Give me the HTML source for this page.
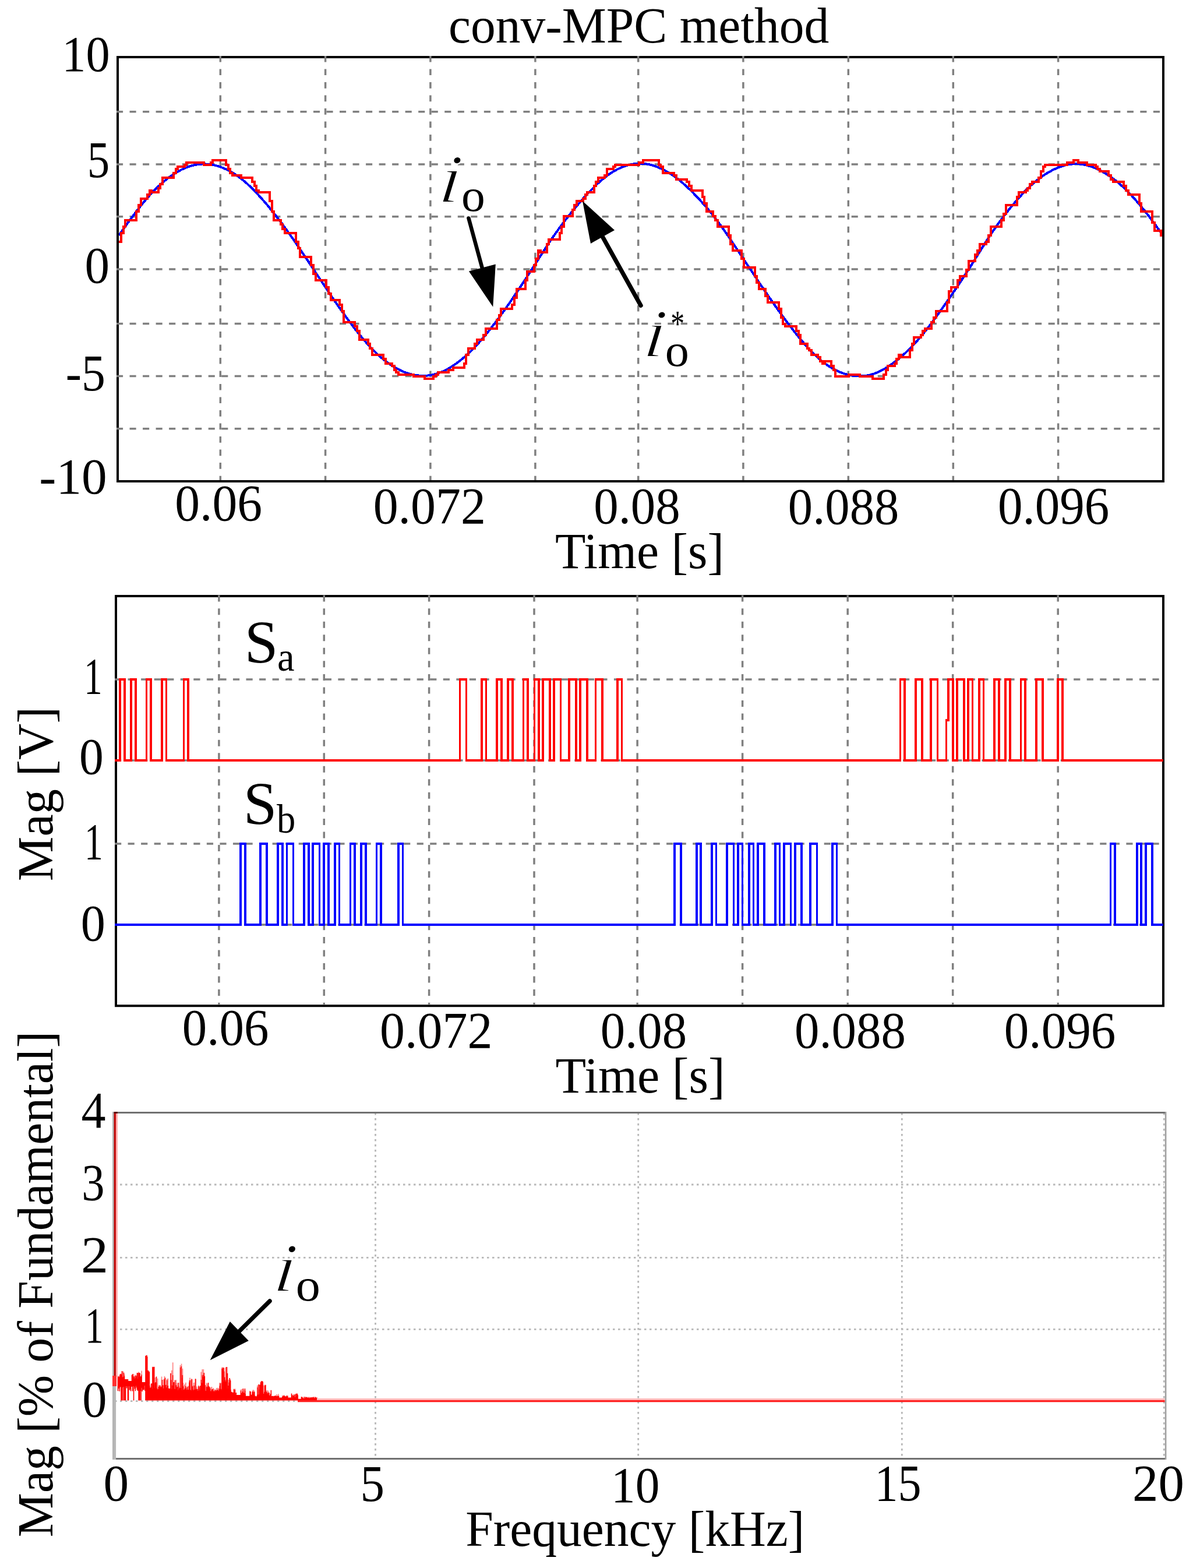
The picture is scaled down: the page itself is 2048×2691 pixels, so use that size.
<!DOCTYPE html><html><head><meta charset="utf-8"><title>conv-MPC method</title>
<style>html,body{margin:0;padding:0;background:#fff;width:2048px;height:2691px;overflow:hidden}svg{display:block}</style></head><body>
<svg xmlns="http://www.w3.org/2000/svg" width="2048" height="2691" viewBox="0 0 2048 2691" font-family="&quot;Liberation Serif&quot;, &quot;Times New Roman&quot;, serif" fill="#000">
<rect width="2048" height="2691" fill="#fff"/>
<rect x="202" y="98" width="1795" height="728" fill="none" stroke="#000" stroke-width="4"/>
<path d="M200 191.8H1995 M200 281.9H1995 M200 371.7H1995 M200 461.9H1995 M200 555.6H1995 M200 645.6H1995 M200 735.8H1995" stroke="#808080" stroke-width="3.5" stroke-dasharray="11.1 11.43" fill="none"/>
<path d="M378.3 96V824 M558.6 96V824 M738.9 96V824 M918.9 96V824 M1095.7 96V824 M1275.9 96V824 M1456.3 96V824 M1636.3 96V824 M1816.6 96V824" stroke="#808080" stroke-width="3.5" stroke-dasharray="10.6 11.92" fill="none"/>
<clipPath id="c1"><rect x="204" y="100" width="1791" height="724"/></clipPath>
<g clip-path="url(#c1)" fill="none" stroke-linejoin="miter" shape-rendering="crispEdges"><path d="M204 404.12 L205 402.7 L206 401.28 L207 399.86 L208 398.45 L209 397.04 L210 395.63 L211 394.23 L212 392.83 L213 391.43 L214 390.04 L215 388.64 L216 387.26 L217 385.87 L218 384.49 L219 383.11 L220 381.74 L221 380.37 L222 379 L223 377.64 L224 376.28 L225 374.93 L226 373.58 L227 372.23 L228 370.89 L229 369.56 L230 368.23 L231 366.91 L232 365.59 L233 364.28 L234 362.97 L235 361.67 L236 360.38 L237 359.09 L238 357.81 L239 356.54 L240 355.28 L241 354.02 L242 352.77 L243 351.53 L244 350.29 L245 349.07 L246 347.85 L247 346.64 L248 345.45 L249 344.26 L250 343.08 L251 341.91 L252 340.74 L253 339.59 L254 338.45 L255 337.32 L256 336.2 L257 335.09 L258 333.99 L259 332.9 L260 331.82 L261 330.75 L262 329.7 L263 328.65 L264 327.61 L265 326.59 L266 325.58 L267 324.57 L268 323.58 L269 322.6 L270 321.63 L271 320.67 L272 319.72 L273 318.79 L274 317.86 L275 316.95 L276 316.05 L277 315.16 L278 314.27 L279 313.4 L280 312.55 L281 311.7 L282 310.86 L283 310.04 L284 309.22 L285 308.42 L286 307.63 L287 306.85 L288 306.08 L289 305.32 L290 304.57 L291 303.84 L292 303.11 L293 302.4 L294 301.7 L295 301 L296 300.32 L297 299.66 L298 299 L299 298.35 L300 297.72 L301 297.09 L302 296.48 L303 295.88 L304 295.29 L305 294.72 L306 294.15 L307 293.6 L308 293.05 L309 292.52 L310 292 L311 291.5 L312 291 L313 290.52 L314 290.05 L315 289.59 L316 289.14 L317 288.7 L318 288.28 L319 287.87 L320 287.47 L321 287.08 L322 286.71 L323 286.35 L324 286 L325 285.66 L326 285.34 L327 285.02 L328 284.72 L329 284.44 L330 284.16 L331 283.9 L332 283.65 L333 283.42 L334 283.2 L335 282.99 L336 282.79 L337 282.61 L338 282.44 L339 282.28 L340 282.13 L341 282 L342 281.89 L343 281.78 L344 281.69 L345 281.62 L346 281.55 L347 281.5 L348 281.47 L349 281.44 L350 281.43 L351 281.44 L352 281.46 L353 281.49 L354 281.53 L355 281.59 L356 281.67 L357 281.75 L358 281.85 L359 281.96 L360 282.09 L361 282.22 L362 282.37 L363 282.54 L364 282.71 L365 282.9 L366 283.1 L367 283.31 L368 283.54 L369 283.77 L370 284.02 L371 284.28 L372 284.55 L373 284.83 L374 285.13 L375 285.43 L376 285.75 L377 286.08 L378 286.42 L379 286.77 L380 287.13 L381 287.51 L382 287.9 L383 288.3 L384 288.71 L385 289.13 L386 289.56 L387 290.01 L388 290.47 L389 290.94 L390 291.42 L391 291.92 L392 292.42 L393 292.94 L394 293.47 L395 294.02 L396 294.57 L397 295.14 L398 295.72 L399 296.32 L400 296.92 L401 297.54 L402 298.17 L403 298.81 L404 299.47 L405 300.13 L406 300.81 L407 301.51 L408 302.21 L409 302.93 L410 303.66 L411 304.4 L412 305.15 L413 305.92 L414 306.7 L415 307.49 L416 308.29 L417 309.1 L418 309.93 L419 310.77 L420 311.62 L421 312.48 L422 313.35 L423 314.23 L424 315.13 L425 316.03 L426 316.95 L427 317.87 L428 318.81 L429 319.76 L430 320.71 L431 321.68 L432 322.66 L433 323.65 L434 324.64 L435 325.65 L436 326.66 L437 327.68 L438 328.72 L439 329.76 L440 330.81 L441 331.86 L442 332.93 L443 334 L444 335.08 L445 336.17 L446 337.27 L447 338.37 L448 339.48 L449 340.6 L450 341.72 L451 342.86 L452 344 L453 345.14 L454 346.3 L455 347.46 L456 348.62 L457 349.8 L458 350.98 L459 352.16 L460 353.36 L461 354.55 L462 355.76 L463 356.97 L464 358.19 L465 359.42 L466 360.65 L467 361.88 L468 363.13 L469 364.38 L470 365.63 L471 366.89 L472 368.16 L473 369.43 L474 370.71 L475 372 L476 373.29 L477 374.58 L478 375.88 L479 377.19 L480 378.51 L481 379.82 L482 381.15 L483 382.48 L484 383.81 L485 385.15 L486 386.5 L487 387.85 L488 389.21 L489 390.57 L490 391.94 L491 393.31 L492 394.68 L493 396.07 L494 397.45 L495 398.84 L496 400.24 L497 401.64 L498 403.05 L499 404.46 L500 405.87 L501 407.29 L502 408.72 L503 410.14 L504 411.58 L505 413.01 L506 414.45 L507 415.9 L508 417.34 L509 418.79 L510 420.25 L511 421.7 L512 423.16 L513 424.63 L514 426.09 L515 427.56 L516 429.03 L517 430.51 L518 431.98 L519 433.46 L520 434.94 L521 436.42 L522 437.9 L523 439.39 L524 440.88 L525 442.36 L526 443.85 L527 445.34 L528 446.83 L529 448.32 L530 449.82 L531 451.31 L532 452.81 L533 454.3 L534 455.79 L535 457.29 L536 458.78 L537 460.28 L538 461.78 L539 463.3 L540 464.82 L541 466.35 L542 467.87 L543 469.39 L544 470.92 L545 472.44 L546 473.96 L547 475.48 L548 477 L549 478.51 L550 480.03 L551 481.54 L552 483.06 L553 484.57 L554 486.08 L555 487.58 L556 489.09 L557 490.59 L558 492.09 L559 493.59 L560 495.09 L561 496.58 L562 498.07 L563 499.56 L564 501.04 L565 502.52 L566 504 L567 505.48 L568 506.95 L569 508.42 L570 509.88 L571 511.34 L572 512.8 L573 514.26 L574 515.71 L575 517.16 L576 518.6 L577 520.04 L578 521.48 L579 522.91 L580 524.34 L581 525.77 L582 527.19 L583 528.6 L584 530.02 L585 531.43 L586 532.83 L587 534.23 L588 535.63 L589 537.03 L590 538.41 L591 539.8 L592 541.18 L593 542.55 L594 543.93 L595 545.29 L596 546.65 L597 548.01 L598 549.36 L599 550.71 L600 552.05 L601 553.39 L602 554.72 L603 556.05 L604 557.37 L605 558.69 L606 560 L607 561.31 L608 562.6 L609 563.9 L610 565.18 L611 566.46 L612 567.74 L613 569.01 L614 570.27 L615 571.52 L616 572.77 L617 574.01 L618 575.24 L619 576.46 L620 577.68 L621 578.89 L622 580.09 L623 581.28 L624 582.47 L625 583.64 L626 584.81 L627 585.97 L628 587.12 L629 588.26 L630 589.39 L631 590.51 L632 591.62 L633 592.72 L634 593.81 L635 594.89 L636 595.96 L637 597.02 L638 598.06 L639 599.1 L640 600.13 L641 601.15 L642 602.15 L643 603.14 L644 604.13 L645 605.1 L646 606.06 L647 607.01 L648 607.95 L649 608.87 L650 609.79 L651 610.69 L652 611.58 L653 612.46 L654 613.33 L655 614.19 L656 615.04 L657 615.87 L658 616.69 L659 617.51 L660 618.3 L661 619.09 L662 619.87 L663 620.63 L664 621.39 L665 622.13 L666 622.86 L667 623.58 L668 624.28 L669 624.98 L670 625.66 L671 626.33 L672 626.99 L673 627.63 L674 628.27 L675 628.89 L676 629.5 L677 630.1 L678 630.69 L679 631.26 L680 631.83 L681 632.38 L682 632.92 L683 633.44 L684 633.96 L685 634.46 L686 634.95 L687 635.43 L688 635.9 L689 636.36 L690 636.8 L691 637.23 L692 637.65 L693 638.06 L694 638.46 L695 638.84 L696 639.21 L697 639.57 L698 639.92 L699 640.26 L700 640.59 L701 640.9 L702 641.2 L703 641.49 L704 641.77 L705 642.04 L706 642.29 L707 642.53 L708 642.76 L709 642.98 L710 643.19 L711 643.38 L712 643.56 L713 643.74 L714 643.89 L715 644.04 L716 644.17 L717 644.3 L718 644.41 L719 644.5 L720 644.59 L721 644.66 L722 644.72 L723 644.77 L724 644.81 L725 644.83 L726 644.84 L727 644.84 L728 644.83 L729 644.8 L730 644.76 L731 644.71 L732 644.65 L733 644.57 L734 644.48 L735 644.38 L736 644.26 L737 644.13 L738 643.99 L739 643.84 L740 643.67 L741 643.49 L742 643.3 L743 643.09 L744 642.87 L745 642.64 L746 642.39 L747 642.13 L748 641.86 L749 641.57 L750 641.27 L751 640.95 L752 640.63 L753 640.28 L754 639.93 L755 639.56 L756 639.18 L757 638.78 L758 638.37 L759 637.95 L760 637.51 L761 637.06 L762 636.6 L763 636.12 L764 635.63 L765 635.13 L766 634.62 L767 634.09 L768 633.55 L769 632.99 L770 632.43 L771 631.85 L772 631.26 L773 630.65 L774 630.04 L775 629.41 L776 628.78 L777 628.13 L778 627.47 L779 626.79 L780 626.11 L781 625.42 L782 624.72 L783 624 L784 623.28 L785 622.54 L786 621.8 L787 621.04 L788 620.28 L789 619.5 L790 618.72 L791 617.92 L792 617.11 L793 616.3 L794 615.48 L795 614.64 L796 613.8 L797 612.94 L798 612.08 L799 611.21 L800 610.32 L801 609.43 L802 608.52 L803 607.61 L804 606.69 L805 605.75 L806 604.81 L807 603.85 L808 602.89 L809 601.91 L810 600.93 L811 599.93 L812 598.92 L813 597.9 L814 596.88 L815 595.84 L816 594.79 L817 593.73 L818 592.66 L819 591.58 L820 590.49 L821 589.39 L822 588.28 L823 587.15 L824 586.02 L825 584.88 L826 583.74 L827 582.58 L828 581.41 L829 580.24 L830 579.05 L831 577.86 L832 576.66 L833 575.45 L834 574.23 L835 573.01 L836 571.78 L837 570.54 L838 569.3 L839 568.05 L840 566.79 L841 565.52 L842 564.25 L843 562.98 L844 561.69 L845 560.41 L846 559.11 L847 557.81 L848 556.51 L849 555.2 L850 553.89 L851 552.57 L852 551.24 L853 549.91 L854 548.58 L855 547.24 L856 545.89 L857 544.55 L858 543.19 L859 541.83 L860 540.47 L861 539.1 L862 537.73 L863 536.35 L864 534.97 L865 533.59 L866 532.2 L867 530.8 L868 529.4 L869 527.99 L870 526.58 L871 525.17 L872 523.75 L873 522.32 L874 520.89 L875 519.46 L876 518.02 L877 516.58 L878 515.13 L879 513.67 L880 512.22 L881 510.75 L882 509.28 L883 507.81 L884 506.34 L885 504.86 L886 503.37 L887 501.88 L888 500.39 L889 498.89 L890 497.39 L891 495.89 L892 494.38 L893 492.87 L894 491.36 L895 489.84 L896 488.32 L897 486.8 L898 485.28 L899 483.75 L900 482.22 L901 480.69 L902 479.15 L903 477.62 L904 476.08 L905 474.54 L906 473 L907 471.46 L908 469.91 L909 468.37 L910 466.82 L911 465.27 L912 463.72 L913 462.17 L914 460.64 L915 459.12 L916 457.6 L917 456.08 L918 454.55 L919 453.03 L919.98 451.5 L920.96 449.98 L921.94 448.45 L922.92 446.93 L923.9 445.4 L924.88 443.88 L925.86 442.35 L926.84 440.83 L927.82 439.31 L928.8 437.79 L929.78 436.27 L930.77 434.76 L931.75 433.24 L932.73 431.73 L933.71 430.22 L934.69 428.72 L935.67 427.21 L936.65 425.72 L937.63 424.22 L938.61 422.73 L939.59 421.25 L940.57 419.77 L941.55 418.29 L942.53 416.82 L943.51 415.36 L944.49 413.9 L945.47 412.45 L946.45 411.01 L947.44 409.57 L948.42 408.14 L949.4 406.72 L950.38 405.3 L951.36 403.89 L952.34 402.49 L953.32 401.1 L954.3 399.71 L955.28 398.33 L956.26 396.96 L957.24 395.59 L958.22 394.24 L959.2 392.88 L960.18 391.54 L961.16 390.2 L962.14 388.87 L963.12 387.55 L964.11 386.24 L965.09 384.93 L966.07 383.62 L967.05 382.33 L968.03 381.04 L969.01 379.75 L969.99 378.47 L970.97 377.2 L971.95 375.94 L972.93 374.68 L973.91 373.42 L974.89 372.17 L975.87 370.93 L976.85 369.69 L977.83 368.46 L978.81 367.24 L979.79 366.02 L980.78 364.8 L981.76 363.59 L982.74 362.39 L983.72 361.19 L984.7 359.99 L985.68 358.8 L986.66 357.62 L987.64 356.44 L988.62 355.27 L989.6 354.1 L990.58 352.94 L991.56 351.79 L992.54 350.64 L993.52 349.49 L994.5 348.35 L995.48 347.22 L996.46 346.09 L997.45 344.96 L998.43 343.84 L999.41 342.73 L1000.39 341.63 L1001.37 340.53 L1002.35 339.43 L1003.33 338.34 L1004.31 337.26 L1005.29 336.18 L1006.27 335.11 L1007.25 334.05 L1008.23 332.99 L1009.21 331.94 L1010.19 330.9 L1011.17 329.86 L1012.15 328.83 L1013.13 327.81 L1014.12 326.79 L1015.1 325.79 L1016.08 324.79 L1017.06 323.8 L1018.04 322.81 L1019.02 321.84 L1020 320.87 L1020.98 319.91 L1021.96 318.96 L1022.94 318.02 L1023.92 317.09 L1024.9 316.16 L1025.88 315.25 L1026.86 314.35 L1027.84 313.45 L1028.82 312.57 L1029.8 311.69 L1030.79 310.83 L1031.77 309.98 L1032.75 309.14 L1033.73 308.31 L1034.71 307.49 L1035.69 306.68 L1036.67 305.88 L1037.65 305.09 L1038.63 304.32 L1039.61 303.56 L1040.59 302.81 L1041.57 302.07 L1042.55 301.34 L1043.53 300.63 L1044.51 299.92 L1045.49 299.24 L1046.47 298.56 L1047.46 297.89 L1048.44 297.24 L1049.42 296.6 L1050.4 295.98 L1051.38 295.36 L1052.36 294.76 L1053.34 294.17 L1054.32 293.6 L1055.3 293.03 L1056.28 292.48 L1057.26 291.94 L1058.24 291.42 L1059.22 290.91 L1060.2 290.41 L1061.18 289.92 L1062.16 289.44 L1063.14 288.98 L1064.13 288.53 L1065.11 288.09 L1066.09 287.67 L1067.07 287.26 L1068.05 286.86 L1069.03 286.47 L1070.01 286.1 L1070.99 285.73 L1071.97 285.38 L1072.95 285.04 L1073.93 284.72 L1074.91 284.4 L1075.89 284.1 L1076.87 283.81 L1077.85 283.54 L1078.83 283.27 L1079.81 283.02 L1080.8 282.78 L1081.78 282.55 L1082.76 282.34 L1083.74 282.13 L1084.72 281.94 L1085.7 281.76 L1086.68 281.6 L1087.66 281.44 L1088.64 281.3 L1089.62 281.17 L1090.6 281.06 L1091.58 280.95 L1092.56 280.86 L1093.54 280.79 L1094.52 280.72 L1095.5 280.67 L1096.5 280.63 L1097.5 280.61 L1098.5 280.6 L1099.5 280.6 L1100.5 280.62 L1101.5 280.65 L1102.5 280.69 L1103.5 280.75 L1104.5 280.82 L1105.5 280.91 L1106.5 281.01 L1107.5 281.12 L1108.5 281.25 L1109.5 281.39 L1110.5 281.55 L1111.5 281.72 L1112.5 281.9 L1113.5 282.1 L1114.5 282.31 L1115.5 282.54 L1116.5 282.78 L1117.5 283.03 L1118.5 283.3 L1119.5 283.58 L1120.5 283.87 L1121.5 284.18 L1122.5 284.49 L1123.5 284.83 L1124.5 285.17 L1125.5 285.52 L1126.5 285.89 L1127.5 286.27 L1128.5 286.66 L1129.5 287.06 L1130.5 287.48 L1131.5 287.9 L1132.5 288.34 L1133.5 288.79 L1134.5 289.25 L1135.5 289.72 L1136.5 290.2 L1137.5 290.69 L1138.5 291.19 L1139.5 291.7 L1140.5 292.23 L1141.5 292.76 L1142.5 293.3 L1143.5 293.86 L1144.5 294.42 L1145.5 295 L1146.5 295.59 L1147.5 296.18 L1148.5 296.79 L1149.5 297.41 L1150.5 298.03 L1151.5 298.67 L1152.5 299.32 L1153.5 299.98 L1154.5 300.65 L1155.5 301.33 L1156.5 302.02 L1157.5 302.72 L1158.5 303.44 L1159.5 304.16 L1160.5 304.89 L1161.5 305.64 L1162.5 306.39 L1163.5 307.16 L1164.5 307.94 L1165.5 308.72 L1166.5 309.52 L1167.5 310.33 L1168.5 311.15 L1169.5 311.98 L1170.5 312.82 L1171.5 313.67 L1172.5 314.54 L1173.5 315.41 L1174.5 316.29 L1175.5 317.18 L1176.5 318.08 L1177.5 319 L1178.5 319.92 L1179.5 320.85 L1180.5 321.79 L1181.5 322.74 L1182.5 323.7 L1183.5 324.66 L1184.5 325.64 L1185.5 326.62 L1186.5 327.61 L1187.5 328.61 L1188.5 329.61 L1189.5 330.63 L1190.5 331.65 L1191.5 332.67 L1192.5 333.71 L1193.5 334.74 L1194.5 335.79 L1195.5 336.84 L1196.5 337.9 L1197.5 338.96 L1198.5 340.03 L1199.5 341.1 L1200.5 342.18 L1201.5 343.27 L1202.5 344.36 L1203.5 345.45 L1204.5 346.56 L1205.5 347.67 L1206.5 348.78 L1207.5 349.9 L1208.5 351.03 L1209.5 352.16 L1210.5 353.3 L1211.5 354.45 L1212.5 355.6 L1213.5 356.76 L1214.5 357.93 L1215.5 359.11 L1216.5 360.3 L1217.5 361.49 L1218.5 362.69 L1219.5 363.9 L1220.5 365.12 L1221.5 366.35 L1222.5 367.59 L1223.5 368.83 L1224.5 370.09 L1225.5 371.35 L1226.5 372.63 L1227.5 373.91 L1228.5 375.2 L1229.5 376.51 L1230.5 377.82 L1231.5 379.14 L1232.5 380.47 L1233.5 381.81 L1234.5 383.16 L1235.5 384.52 L1236.5 385.89 L1237.5 387.27 L1238.5 388.66 L1239.5 390.05 L1240.5 391.45 L1241.5 392.87 L1242.5 394.29 L1243.5 395.71 L1244.5 397.15 L1245.5 398.59 L1246.5 400.03 L1247.5 401.49 L1248.5 402.95 L1249.5 404.41 L1250.5 405.88 L1251.5 407.35 L1252.5 408.83 L1253.5 410.31 L1254.5 411.8 L1255.5 413.29 L1256.5 414.78 L1257.5 416.27 L1258.5 417.77 L1259.5 419.27 L1260.5 420.76 L1261.5 422.26 L1262.5 423.77 L1263.5 425.27 L1264.5 426.77 L1265.5 428.27 L1266.5 429.77 L1267.5 431.27 L1268.5 432.78 L1269.5 434.28 L1270.5 435.78 L1271.5 437.28 L1272.5 438.78 L1273.5 440.28 L1274.5 441.78 L1275.5 443.28 L1276.5 444.77 L1277.5 446.27 L1278.5 447.77 L1279.5 449.26 L1280.5 450.75 L1281.5 452.25 L1282.5 453.74 L1283.5 455.23 L1284.5 456.72 L1285.5 458.21 L1286.5 459.69 L1287.5 461.18 L1288.5 462.68 L1289.5 464.19 L1290.5 465.7 L1291.5 467.21 L1292.5 468.72 L1293.5 470.23 L1294.5 471.73 L1295.5 473.24 L1296.5 474.74 L1297.5 476.24 L1298.5 477.74 L1299.5 479.24 L1300.5 480.73 L1301.5 482.22 L1302.5 483.72 L1303.5 485.21 L1304.5 486.69 L1305.5 488.18 L1306.5 489.66 L1307.5 491.14 L1308.5 492.62 L1309.5 494.1 L1310.5 495.57 L1311.5 497.04 L1312.5 498.51 L1313.5 499.98 L1314.5 501.44 L1315.5 502.9 L1316.5 504.36 L1317.5 505.82 L1318.5 507.27 L1319.5 508.72 L1320.5 510.17 L1321.5 511.61 L1322.5 513.06 L1323.5 514.5 L1324.5 515.93 L1325.5 517.36 L1326.5 518.79 L1327.5 520.22 L1328.5 521.65 L1329.5 523.07 L1330.5 524.48 L1331.5 525.9 L1332.5 527.31 L1333.5 528.71 L1334.5 530.11 L1335.5 531.51 L1336.5 532.91 L1337.5 534.3 L1338.5 535.69 L1339.5 537.07 L1340.5 538.45 L1341.5 539.82 L1342.5 541.19 L1343.5 542.56 L1344.5 543.92 L1345.5 545.28 L1346.5 546.63 L1347.5 547.98 L1348.5 549.32 L1349.5 550.66 L1350.5 552 L1351.5 553.32 L1352.5 554.65 L1353.5 555.97 L1354.5 557.28 L1355.5 558.59 L1356.5 559.9 L1357.5 561.2 L1358.5 562.49 L1359.5 563.78 L1360.5 565.07 L1361.5 566.35 L1362.5 567.62 L1363.5 568.89 L1364.5 570.15 L1365.5 571.41 L1366.5 572.67 L1367.5 573.91 L1368.5 575.15 L1369.5 576.39 L1370.5 577.62 L1371.5 578.84 L1372.5 580.06 L1373.5 581.27 L1374.5 582.48 L1375.5 583.67 L1376.5 584.86 L1377.5 586.05 L1378.5 587.22 L1379.5 588.39 L1380.5 589.55 L1381.5 590.7 L1382.5 591.84 L1383.5 592.97 L1384.5 594.1 L1385.5 595.21 L1386.5 596.31 L1387.5 597.4 L1388.5 598.49 L1389.5 599.56 L1390.5 600.62 L1391.5 601.67 L1392.5 602.7 L1393.5 603.73 L1394.5 604.75 L1395.5 605.75 L1396.5 606.74 L1397.5 607.72 L1398.5 608.69 L1399.5 609.64 L1400.5 610.58 L1401.5 611.51 L1402.5 612.43 L1403.5 613.33 L1404.5 614.23 L1405.5 615.11 L1406.5 615.97 L1407.5 616.83 L1408.5 617.67 L1409.5 618.5 L1410.5 619.32 L1411.5 620.13 L1412.5 620.92 L1413.5 621.7 L1414.5 622.46 L1415.5 623.22 L1416.5 623.96 L1417.5 624.69 L1418.5 625.41 L1419.5 626.11 L1420.5 626.8 L1421.5 627.48 L1422.5 628.14 L1423.5 628.8 L1424.5 629.44 L1425.5 630.06 L1426.5 630.68 L1427.5 631.28 L1428.5 631.87 L1429.5 632.44 L1430.5 633.01 L1431.5 633.56 L1432.5 634.09 L1433.5 634.62 L1434.5 635.13 L1435.5 635.63 L1436.5 636.12 L1437.5 636.59 L1438.5 637.05 L1439.5 637.5 L1440.5 637.94 L1441.5 638.36 L1442.5 638.77 L1443.5 639.17 L1444.5 639.56 L1445.5 639.93 L1446.5 640.3 L1447.5 640.65 L1448.5 640.98 L1449.5 641.31 L1450.5 641.62 L1451.5 641.92 L1452.5 642.21 L1453.5 642.49 L1454.5 642.75 L1455.5 643 L1456.5 643.24 L1457.5 643.47 L1458.5 643.69 L1459.5 643.89 L1460.5 644.09 L1461.5 644.27 L1462.5 644.44 L1463.5 644.59 L1464.5 644.74 L1465.5 644.87 L1466.5 644.99 L1467.5 645.1 L1468.5 645.2 L1469.5 645.28 L1470.5 645.35 L1471.5 645.41 L1472.5 645.46 L1473.5 645.49 L1474.5 645.51 L1475.5 645.52 L1476.5 645.52 L1477.5 645.5 L1478.5 645.47 L1479.5 645.42 L1480.5 645.36 L1481.5 645.29 L1482.5 645.21 L1483.5 645.11 L1484.5 645 L1485.5 644.87 L1486.5 644.73 L1487.5 644.58 L1488.5 644.41 L1489.5 644.23 L1490.5 644.03 L1491.5 643.82 L1492.5 643.6 L1493.5 643.36 L1494.5 643.1 L1495.5 642.84 L1496.5 642.55 L1497.5 642.26 L1498.5 641.95 L1499.5 641.62 L1500.5 641.29 L1501.5 640.93 L1502.5 640.57 L1503.5 640.19 L1504.5 639.79 L1505.5 639.39 L1506.5 638.97 L1507.5 638.53 L1508.5 638.08 L1509.5 637.62 L1510.5 637.15 L1511.5 636.66 L1512.5 636.16 L1513.5 635.65 L1514.5 635.12 L1515.5 634.59 L1516.5 634.04 L1517.5 633.48 L1518.5 632.9 L1519.5 632.32 L1520.5 631.72 L1521.5 631.11 L1522.5 630.49 L1523.5 629.86 L1524.5 629.22 L1525.5 628.57 L1526.5 627.91 L1527.5 627.23 L1528.5 626.55 L1529.5 625.86 L1530.5 625.15 L1531.5 624.44 L1532.5 623.72 L1533.5 622.99 L1534.5 622.24 L1535.5 621.49 L1536.5 620.73 L1537.5 619.96 L1538.5 619.18 L1539.5 618.4 L1540.5 617.6 L1541.5 616.79 L1542.5 615.98 L1543.5 615.15 L1544.5 614.32 L1545.5 613.47 L1546.5 612.62 L1547.5 611.76 L1548.5 610.88 L1549.5 610 L1550.5 609.11 L1551.5 608.21 L1552.5 607.3 L1553.5 606.38 L1554.5 605.45 L1555.5 604.51 L1556.5 603.56 L1557.5 602.6 L1558.5 601.64 L1559.5 600.66 L1560.5 599.67 L1561.5 598.67 L1562.5 597.66 L1563.5 596.64 L1564.5 595.62 L1565.5 594.58 L1566.5 593.53 L1567.5 592.47 L1568.5 591.41 L1569.5 590.33 L1570.5 589.24 L1571.5 588.15 L1572.5 587.04 L1573.5 585.93 L1574.5 584.81 L1575.5 583.67 L1576.5 582.53 L1577.5 581.38 L1578.5 580.22 L1579.5 579.05 L1580.5 577.87 L1581.5 576.69 L1582.5 575.49 L1583.5 574.29 L1584.5 573.08 L1585.5 571.86 L1586.5 570.63 L1587.5 569.39 L1588.5 568.15 L1589.5 566.9 L1590.5 565.64 L1591.5 564.37 L1592.5 563.1 L1593.5 561.82 L1594.5 560.53 L1595.5 559.23 L1596.5 557.93 L1597.5 556.62 L1598.5 555.3 L1599.5 553.98 L1600.5 552.65 L1601.5 551.31 L1602.5 549.97 L1603.5 548.63 L1604.5 547.27 L1605.5 545.92 L1606.5 544.55 L1607.5 543.18 L1608.5 541.81 L1609.5 540.43 L1610.5 539.05 L1611.5 537.66 L1612.5 536.26 L1613.5 534.87 L1614.5 533.47 L1615.5 532.06 L1616.5 530.65 L1617.5 529.24 L1618.5 527.82 L1619.5 526.4 L1620.5 524.98 L1621.5 523.55 L1622.5 522.12 L1623.5 520.69 L1624.5 519.25 L1625.5 517.81 L1626.5 516.37 L1627.5 514.93 L1628.5 513.48 L1629.5 512.04 L1630.5 510.59 L1631.5 509.13 L1632.5 507.68 L1633.5 506.22 L1634.5 504.76 L1635.5 503.3 L1636.5 501.84 L1637.5 500.37 L1638.5 498.91 L1639.5 497.44 L1640.5 495.97 L1641.5 494.49 L1642.5 493.01 L1643.5 491.54 L1644.5 490.06 L1645.5 488.57 L1646.5 487.08 L1647.5 485.59 L1648.5 484.1 L1649.5 482.61 L1650.5 481.11 L1651.5 479.6 L1652.5 478.1 L1653.5 476.59 L1654.5 475.07 L1655.5 473.55 L1656.5 472.02 L1657.5 470.49 L1658.5 468.96 L1659.5 467.42 L1660.5 465.87 L1661.5 464.32 L1662.5 462.76 L1663.5 461.21 L1664.5 459.67 L1665.5 458.12 L1666.5 456.57 L1667.5 455.01 L1668.5 453.44 L1669.5 451.87 L1670.5 450.29 L1671.5 448.71 L1672.5 447.12 L1673.5 445.52 L1674.5 443.92 L1675.5 442.32 L1676.5 440.71 L1677.5 439.1 L1678.5 437.49 L1679.5 435.88 L1680.5 434.26 L1681.5 432.65 L1682.5 431.03 L1683.5 429.42 L1684.5 427.81 L1685.5 426.2 L1686.5 424.59 L1687.5 422.99 L1688.5 421.4 L1689.5 419.81 L1690.5 418.22 L1691.5 416.64 L1692.5 415.07 L1693.5 413.51 L1694.5 411.96 L1695.5 410.41 L1696.5 408.87 L1697.5 407.34 L1698.5 405.82 L1699.5 404.3 L1700.5 402.8 L1701.5 401.31 L1702.5 399.82 L1703.5 398.34 L1704.5 396.88 L1705.5 395.42 L1706.5 393.97 L1707.5 392.53 L1708.5 391.1 L1709.5 389.67 L1710.5 388.26 L1711.5 386.85 L1712.5 385.46 L1713.5 384.07 L1714.5 382.69 L1715.5 381.32 L1716.5 379.95 L1717.5 378.6 L1718.5 377.25 L1719.5 375.91 L1720.5 374.58 L1721.5 373.25 L1722.5 371.94 L1723.5 370.63 L1724.5 369.33 L1725.5 368.03 L1726.5 366.75 L1727.5 365.47 L1728.5 364.19 L1729.5 362.93 L1730.5 361.67 L1731.5 360.42 L1732.5 359.17 L1733.5 357.94 L1734.5 356.7 L1735.5 355.48 L1736.5 354.26 L1737.5 353.05 L1738.5 351.85 L1739.5 350.65 L1740.5 349.46 L1741.5 348.28 L1742.5 347.11 L1743.5 345.94 L1744.5 344.78 L1745.5 343.62 L1746.5 342.48 L1747.5 341.34 L1748.5 340.21 L1749.5 339.09 L1750.5 337.97 L1751.5 336.86 L1752.5 335.76 L1753.5 334.67 L1754.5 333.59 L1755.5 332.52 L1756.5 331.46 L1757.5 330.4 L1758.5 329.36 L1759.5 328.32 L1760.5 327.3 L1761.5 326.28 L1762.5 325.28 L1763.5 324.28 L1764.5 323.3 L1765.5 322.33 L1766.5 321.37 L1767.5 320.42 L1768.5 319.48 L1769.5 318.55 L1770.5 317.63 L1771.5 316.73 L1772.5 315.84 L1773.5 314.95 L1774.5 314.09 L1775.5 313.23 L1776.5 312.38 L1777.5 311.55 L1778.5 310.73 L1779.5 309.91 L1780.5 309.12 L1781.5 308.33 L1782.5 307.55 L1783.5 306.79 L1784.5 306.04 L1785.5 305.29 L1786.5 304.56 L1787.5 303.84 L1788.5 303.14 L1789.5 302.44 L1790.5 301.75 L1791.5 301.08 L1792.5 300.41 L1793.5 299.76 L1794.5 299.11 L1795.5 298.48 L1796.5 297.86 L1797.5 297.24 L1798.5 296.64 L1799.5 296.05 L1800.5 295.47 L1801.5 294.9 L1802.5 294.34 L1803.5 293.79 L1804.5 293.25 L1805.5 292.72 L1806.5 292.2 L1807.5 291.69 L1808.5 291.19 L1809.5 290.71 L1810.5 290.23 L1811.5 289.77 L1812.5 289.32 L1813.5 288.88 L1814.5 288.45 L1815.5 288.03 L1816.5 287.62 L1817.5 287.22 L1818.5 286.84 L1819.5 286.47 L1820.5 286.11 L1821.5 285.76 L1822.5 285.43 L1823.5 285.1 L1824.5 284.79 L1825.5 284.49 L1826.5 284.21 L1827.5 283.93 L1828.5 283.67 L1829.5 283.43 L1830.5 283.19 L1831.5 282.97 L1832.5 282.76 L1833.5 282.57 L1834.5 282.38 L1835.5 282.22 L1836.5 282.06 L1837.5 281.92 L1838.5 281.79 L1839.5 281.68 L1840.5 281.58 L1841.5 281.49 L1842.5 281.42 L1843.5 281.36 L1844.5 281.32 L1845.5 281.29 L1846.5 281.27 L1847.5 281.27 L1848.5 281.28 L1849.5 281.31 L1850.5 281.35 L1851.5 281.4 L1852.5 281.47 L1853.5 281.55 L1854.5 281.65 L1855.5 281.76 L1856.5 281.88 L1857.5 282.02 L1858.5 282.17 L1859.5 282.34 L1860.5 282.52 L1861.5 282.71 L1862.5 282.92 L1863.5 283.14 L1864.5 283.37 L1865.5 283.61 L1866.5 283.87 L1867.5 284.14 L1868.5 284.42 L1869.5 284.72 L1870.5 285.02 L1871.5 285.34 L1872.5 285.68 L1873.5 286.02 L1874.5 286.37 L1875.5 286.74 L1876.5 287.12 L1877.5 287.51 L1878.5 287.91 L1879.5 288.32 L1880.5 288.74 L1881.5 289.18 L1882.5 289.62 L1883.5 290.08 L1884.5 290.54 L1885.5 291.02 L1886.5 291.51 L1887.5 292.01 L1888.5 292.52 L1889.5 293.04 L1890.5 293.57 L1891.5 294.11 L1892.5 294.66 L1893.5 295.22 L1894.5 295.79 L1895.5 296.37 L1896.5 296.96 L1897.5 297.56 L1898.5 298.18 L1899.5 298.8 L1900.5 299.43 L1901.5 300.07 L1902.5 300.73 L1903.5 301.39 L1904.5 302.07 L1905.5 302.75 L1906.5 303.45 L1907.5 304.15 L1908.5 304.87 L1909.5 305.6 L1910.5 306.34 L1911.5 307.09 L1912.5 307.85 L1913.5 308.62 L1914.5 309.4 L1915.5 310.19 L1916.5 310.99 L1917.5 311.81 L1918.5 312.63 L1919.5 313.47 L1920.5 314.32 L1921.5 315.17 L1922.5 316.04 L1923.5 316.92 L1924.5 317.81 L1925.5 318.71 L1926.5 319.63 L1927.5 320.55 L1928.5 321.48 L1929.5 322.42 L1930.5 323.38 L1931.5 324.34 L1932.5 325.32 L1933.5 326.3 L1934.5 327.29 L1935.5 328.3 L1936.5 329.31 L1937.5 330.34 L1938.5 331.37 L1939.5 332.41 L1940.5 333.46 L1941.5 334.52 L1942.5 335.59 L1943.5 336.67 L1944.5 337.76 L1945.5 338.85 L1946.5 339.96 L1947.5 341.07 L1948.5 342.19 L1949.5 343.32 L1950.5 344.46 L1951.5 345.6 L1952.5 346.76 L1953.5 347.92 L1954.5 349.09 L1955.5 350.26 L1956.5 351.45 L1957.5 352.64 L1958.5 353.84 L1959.5 355.04 L1960.5 356.26 L1961.5 357.48 L1962.5 358.7 L1963.5 359.94 L1964.5 361.18 L1965.5 362.43 L1966.5 363.68 L1967.5 364.95 L1968.5 366.22 L1969.5 367.49 L1970.5 368.78 L1971.5 370.07 L1972.5 371.36 L1973.5 372.67 L1974.5 373.98 L1975.5 375.29 L1976.5 376.62 L1977.5 377.95 L1978.5 379.28 L1979.5 380.62 L1980.5 381.97 L1981.5 383.33 L1982.5 384.69 L1983.5 386.05 L1984.5 387.42 L1985.5 388.8 L1986.5 390.18 L1987.5 391.57 L1988.5 392.96 L1989.5 394.36 L1990.5 395.77 L1991.5 397.18 L1992.5 398.59 L1993.5 400.01 L1994.5 401.43 L1995.5 402.86" stroke="#0000ff" stroke-width="4"/><path d="M203 414.86 L207.75 414.86 L207.75 400.16 L211.5 400.16 L211.5 389.14 L215.25 389.14 L215.25 378.12 L234 378.12 L234 363.42 L237.75 363.42 L237.75 352.4 L241.5 352.4 L241.5 341.38 L252.75 341.38 L252.75 334.03 L256.5 334.03 L256.5 326.68 L260.25 326.68 L260.25 330.36 L271.5 330.36 L271.5 323.01 L275.25 323.01 L275.25 315.66 L279 315.66 L279 304.64 L297.75 304.64 L297.75 297.29 L301.5 297.29 L301.5 289.94 L305.25 289.94 L305.25 286.27 L316.5 286.27 L316.5 282.59 L320.25 282.59 L320.25 278.92 L350.25 278.92 L350.25 282.59 L361.5 282.59 L361.5 278.92 L365.25 278.92 L365.25 275.25 L387.75 275.25 L387.75 282.59 L391.5 282.59 L391.5 289.94 L395.25 289.94 L395.25 297.29 L399 297.29 L399 300.96 L414 300.96 L414 304.64 L432.75 304.64 L432.75 311.99 L436.5 311.99 L436.5 319.33 L440.25 319.33 L440.25 326.68 L444 326.68 L444 330.36 L462.75 330.36 L462.75 345.05 L466.5 345.05 L466.5 363.42 L470.25 363.42 L470.25 378.12 L481.5 378.12 L481.5 385.47 L485.25 385.47 L485.25 392.81 L489 392.81 L489 400.16 L507.75 400.16 L507.75 414.86 L511.5 414.86 L511.5 425.88 L515.25 425.88 L515.25 440.58 L534 440.58 L534 455.27 L537.75 455.27 L537.75 470.13 L541.5 470.13 L541.5 481.37 L560.25 481.37 L560.25 492.62 L564 492.62 L564 503.86 L567.75 503.86 L567.75 515.1 L582.75 515.1 L582.75 522.6 L586.5 522.6 L586.5 533.84 L590.25 533.84 L590.25 552.58 L609 552.58 L609 560.07 L612.75 560.07 L612.75 567.57 L616.5 567.57 L616.5 582.56 L631.5 582.56 L631.5 590.05 L635.25 590.05 L635.25 597.55 L639 597.55 L639 608.79 L657.75 608.79 L657.75 616.28 L661.5 616.28 L661.5 623.78 L672.75 623.78 L672.75 627.52 L676.5 627.52 L676.5 635.02 L680.25 635.02 L680.25 638.77 L684 638.77 L684 642.51 L710.25 642.51 L710.25 646.26 L729 646.26 L729 650.01 L744 650.01 L744 646.26 L747.75 646.26 L747.75 642.51 L751.5 642.51 L751.5 638.77 L770.25 638.77 L770.25 635.02 L777.75 635.02 L777.75 631.27 L796.5 631.27 L796.5 623.78 L800.25 623.78 L800.25 608.79 L804 608.79 L804 597.55 L815.25 597.55 L815.25 590.05 L819 590.05 L819 582.56 L830.25 582.56 L830.25 575.06 L834 575.06 L834 563.82 L852.75 563.82 L852.75 548.83 L856.5 548.83 L856.5 541.33 L860.25 541.33 L860.25 530.09 L879 530.09 L879 522.6 L882.75 522.6 L882.75 511.35 L886.5 511.35 L886.5 496.36 L901.5 496.36 L901.5 481.37 L905.25 481.37 L905.25 466.38 L916.5 466.38 L916.5 455.27 L920.22 455.27 L920.22 444.25 L923.9 444.25 L923.9 429.55 L927.58 429.55 L927.58 433.23 L938.61 433.23 L938.61 418.53 L942.29 418.53 L942.29 411.18 L960.67 411.18 L960.67 400.16 L964.35 400.16 L964.35 389.14 L968.03 389.14 L968.03 370.77 L982.74 370.77 L982.74 359.75 L986.41 359.75 L986.41 352.4 L990.09 352.4 L990.09 345.05 L1001.12 345.05 L1001.12 341.38 L1004.8 341.38 L1004.8 334.03 L1008.48 334.03 L1008.48 330.36 L1019.51 330.36 L1019.51 319.33 L1023.19 319.33 L1023.19 311.99 L1026.86 311.99 L1026.86 304.64 L1037.89 304.64 L1037.89 300.96 L1041.57 300.96 L1041.57 289.94 L1052.6 289.94 L1052.6 286.27 L1056.28 286.27 L1056.28 282.59 L1096.75 282.59 L1096.75 278.92 L1104.25 278.92 L1104.25 275.25 L1130.5 275.25 L1130.5 282.59 L1134.25 282.59 L1134.25 286.27 L1138 286.27 L1138 297.29 L1156.75 297.29 L1156.75 300.96 L1160.5 300.96 L1160.5 308.31 L1179.25 308.31 L1179.25 311.99 L1183 311.99 L1183 319.33 L1186.75 319.33 L1186.75 326.68 L1205.5 326.68 L1205.5 337.7 L1209.25 337.7 L1209.25 348.73 L1213 348.73 L1213 363.42 L1224.25 363.42 L1224.25 370.77 L1228 370.77 L1228 378.12 L1231.75 378.12 L1231.75 389.14 L1250.5 389.14 L1250.5 403.84 L1254.25 403.84 L1254.25 418.53 L1258 418.53 L1258 429.55 L1273 429.55 L1273 444.25 L1276.75 444.25 L1276.75 458.95 L1295.5 458.95 L1295.5 473.88 L1299.25 473.88 L1299.25 485.12 L1303 485.12 L1303 496.36 L1314.25 496.36 L1314.25 507.61 L1318 507.61 L1318 518.85 L1336.75 518.85 L1336.75 530.09 L1340.5 530.09 L1340.5 545.08 L1344.25 545.08 L1344.25 556.32 L1348 556.32 L1348 560.07 L1366.75 560.07 L1366.75 567.57 L1370.5 567.57 L1370.5 575.06 L1374.25 575.06 L1374.25 590.05 L1385.5 590.05 L1385.5 597.55 L1389.25 597.55 L1389.25 601.29 L1393 601.29 L1393 608.79 L1404.25 608.79 L1404.25 612.53 L1408 612.53 L1408 620.03 L1411.75 620.03 L1411.75 623.78 L1415.5 623.78 L1415.5 620.03 L1426.75 620.03 L1426.75 627.52 L1430.5 627.52 L1430.5 635.02 L1434.25 635.02 L1434.25 646.26 L1456.75 646.26 L1456.75 642.51 L1475.5 642.51 L1475.5 646.26 L1498 646.26 L1498 650.01 L1516.75 650.01 L1516.75 642.51 L1520.5 642.51 L1520.5 635.02 L1524.25 635.02 L1524.25 627.52 L1535.5 627.52 L1535.5 623.78 L1539.25 623.78 L1539.25 616.28 L1543 616.28 L1543 608.79 L1546.75 608.79 L1546.75 612.53 L1561.75 612.53 L1561.75 601.29 L1565.5 601.29 L1565.5 590.05 L1569.25 590.05 L1569.25 578.81 L1580.5 578.81 L1580.5 575.06 L1584.25 575.06 L1584.25 567.57 L1588 567.57 L1588 563.82 L1599.25 563.82 L1599.25 552.58 L1603 552.58 L1603 545.08 L1606.75 545.08 L1606.75 533.84 L1625.5 533.84 L1625.5 518.85 L1629.25 518.85 L1629.25 500.11 L1633 500.11 L1633 492.62 L1644.25 492.62 L1644.25 481.37 L1648 481.37 L1648 473.88 L1659.25 473.88 L1659.25 462.64 L1663 462.64 L1663 447.93 L1674.25 447.93 L1674.25 436.9 L1678 436.9 L1678 429.55 L1681.75 429.55 L1681.75 418.53 L1693 418.53 L1693 414.86 L1696.75 414.86 L1696.75 403.84 L1700.5 403.84 L1700.5 389.14 L1719.25 389.14 L1719.25 378.12 L1723 378.12 L1723 367.1 L1726.75 367.1 L1726.75 352.4 L1745.5 352.4 L1745.5 337.7 L1749.25 337.7 L1749.25 330.36 L1760.5 330.36 L1760.5 326.68 L1764.25 326.68 L1764.25 323.01 L1768 323.01 L1768 315.66 L1771.75 315.66 L1771.75 311.99 L1783 311.99 L1783 304.64 L1786.75 304.64 L1786.75 293.62 L1790.5 293.62 L1790.5 286.27 L1794.25 286.27 L1794.25 282.59 L1831.75 282.59 L1831.75 278.92 L1843 278.92 L1843 275.25 L1850.5 275.25 L1850.5 278.92 L1865.5 278.92 L1865.5 282.59 L1880.5 282.59 L1880.5 286.27 L1884.25 286.27 L1884.25 289.94 L1888 289.94 L1888 293.62 L1903 293.62 L1903 300.96 L1906.75 300.96 L1906.75 308.31 L1910.5 308.31 L1910.5 311.99 L1929.25 311.99 L1929.25 319.33 L1933 319.33 L1933 326.68 L1936.75 326.68 L1936.75 334.03 L1955.5 334.03 L1955.5 348.73 L1959.25 348.73 L1959.25 363.42 L1978 363.42 L1978 381.79 L1981.75 381.79 L1981.75 396.49 L1993 396.49 L1993 403.84 L1996.75 403.84 L1996.75 414.86 L1997 414.86 L1997 418.53 L1997 418.53 L1997 436.9 L1997 436.9 L1997 458.95 L1997 458.95" stroke="#ff0000" stroke-width="4"/></g>
<path d="M804.5 374.5L827.5 459" stroke="#000" stroke-width="6.6" stroke-linecap="round" fill="none"/>
<path d="M804.9 465.6L850.8 453.4L846.3 526.8Z"/>
<path d="M1034.5 406.5L1100 524.3" stroke="#000" stroke-width="7.4" stroke-linecap="round" fill="none"/>
<path d="M1000 345L1055 395L1014 417.9Z"/>
<rect x="199" y="1023" width="1798" height="703.2" fill="none" stroke="#000" stroke-width="4"/>
<path d="M197 1166H1995 M197 1305H1995 M197 1448H1995 M197 1587H1995" stroke="#808080" stroke-width="3.5" stroke-dasharray="11.2 11.35" fill="none"/>
<path d="M375.9 1021.6V1724.5 M556.3 1021.6V1724.5 M736.6 1021.6V1724.5 M917 1021.6V1724.5 M1094.1 1021.6V1724.5 M1274.6 1021.6V1724.5 M1455.2 1021.6V1724.5 M1635.7 1021.6V1724.5 M1816.2 1021.6V1724.5" stroke="#808080" stroke-width="3.5" stroke-dasharray="11 11.55" fill="none"/>
<g fill="none" stroke-linejoin="miter" shape-rendering="crispEdges"><path d="M197 1305 L206.1 1305 L206.1 1166 L214 1166 L214 1305 L224.9 1305 L224.9 1166 L232.7 1166 L232.7 1305 L251.3 1305 L251.3 1166 L259 1166 L259 1305 L277.9 1305 L277.9 1166 L285.3 1166 L285.3 1305 L315.5 1305 L315.5 1166 L322.9 1166 L322.9 1305 L789.4 1305 L789.4 1166 L800.6 1166 L800.6 1305 L826.8 1305 L826.8 1166 L834.3 1166 L834.3 1305 L853.2 1305 L853.2 1166 L860.8 1166 L860.8 1305 L872 1305 L872 1166 L879.7 1166 L879.7 1305 L898.5 1305 L898.5 1166 L906 1166 L906 1305 L917.3 1305 L917.3 1166 L925 1166 L925 1305 L932.1 1305 L932.1 1166 L943.8 1166 L943.8 1305 L950.9 1305 L950.9 1166 L962.5 1166 L962.5 1305 L977.2 1305 L977.2 1166 L988.9 1166 L988.9 1305 L996.1 1305 L996.1 1166 L1007.8 1166 L1007.8 1305 L1022.4 1305 L1022.4 1166 L1034 1166 L1034 1305 L1060 1305 L1060 1166 L1067.5 1166 L1067.5 1305 L1545.5 1305 L1545.5 1166 L1553 1166 L1553 1305 L1571.8 1305 L1571.8 1166 L1583.2 1166 L1583.2 1305 L1598 1305 L1598 1166 L1609.4 1166 L1609.4 1305 L1624.3 1305 L1624.3 1235.7 L1628.1 1235.7 L1628.1 1166 L1635.7 1166 L1635.7 1305 L1643.2 1305 L1643.2 1166 L1654.7 1166 L1654.7 1305 L1661.9 1305 L1661.9 1166 L1669.4 1166 L1669.4 1305 L1681 1305 L1681 1166 L1688.4 1166 L1688.4 1305 L1707.1 1305 L1707.1 1166 L1714.9 1166 L1714.9 1305 L1726 1305 L1726 1166 L1733.7 1166 L1733.7 1305 L1752.4 1305 L1752.4 1166 L1759.9 1166 L1759.9 1305 L1778.8 1305 L1778.8 1166 L1789.9 1166 L1789.9 1305 L1816.2 1305 L1816.2 1166 L1823.9 1166 L1823.9 1305 L1997 1305" stroke="#ff0000" stroke-width="3.6"/><path d="M197 1587 L413.2 1587 L413.2 1448 L420.9 1448 L420.9 1587 L447 1587 L447 1448 L458.2 1448 L458.2 1587 L477 1587 L477 1448 L484.7 1448 L484.7 1587 L492.3 1587 L492.3 1448 L503.5 1448 L503.5 1587 L522.2 1587 L522.2 1448 L529.9 1448 L529.9 1587 L537 1587 L537 1448 L548.6 1448 L548.6 1587 L556.1 1587 L556.1 1448 L563.7 1448 L563.7 1587 L574.9 1587 L574.9 1448 L582.5 1448 L582.5 1587 L601.3 1587 L601.3 1448 L608.9 1448 L608.9 1587 L620 1587 L620 1448 L627.7 1448 L627.7 1587 L646.3 1587 L646.3 1448 L653.9 1448 L653.9 1587 L684 1587 L684 1448 L691.6 1448 L691.6 1587 L1158 1587 L1158 1448 L1169.2 1448 L1169.2 1587 L1195.7 1587 L1195.7 1448 L1203 1448 L1203 1587 L1221.9 1587 L1221.9 1448 L1229.4 1448 L1229.4 1587 L1248.1 1587 L1248.1 1448 L1259.6 1448 L1259.6 1587 L1267 1587 L1267 1448 L1274.6 1448 L1274.6 1587 L1286 1587 L1286 1448 L1293.5 1448 L1293.5 1587 L1301 1587 L1301 1448 L1312 1448 L1312 1587 L1331 1587 L1331 1448 L1338.5 1448 L1338.5 1587 L1346.1 1587 L1346.1 1448 L1357.3 1448 L1357.3 1587 L1364.9 1587 L1364.9 1448 L1376 1448 L1376 1587 L1391.1 1587 L1391.1 1448 L1402.5 1448 L1402.5 1587 L1428.9 1587 L1428.9 1448 L1436.3 1448 L1436.3 1587 L1906.6 1587 L1906.6 1448 L1914 1448 L1914 1587 L1951.9 1587 L1951.9 1448 L1959.1 1448 L1959.1 1587 L1966.8 1587 L1966.8 1448 L1978.1 1448 L1978.1 1587 L1997 1587" stroke="#0000ff" stroke-width="3.6"/></g>
<path d="M197 2033H1998 M197 2158.3H1998 M197 2281.3H1998 M197 2404.6H1998 M644.5 1910V2503 M1095.7 1910V2503 M1548.3 1910V2503 M1998.3 1910V2503" stroke="#b8b8b8" stroke-width="2.8" stroke-dasharray="3.5 5.5" fill="none"/>
<rect x="193" y="1908" width="3" height="597" fill="#b4b4b4"/>
<rect x="196" y="1908" width="1804" height="3" fill="#707070"/>
<rect x="196" y="2502" width="1804" height="3" fill="#707070"/>
<rect x="1999.8" y="1908" width="2.6" height="597" fill="#a0a0a0"/>
<path d="M202.5 2362.36V2361.47 M204.5 2363.38V2361.32 M206 2359.56V2358.25 M207 2357.78V2357.67 M208 2358.92V2357.93 M208.75 2359.1V2357.6 M210.5 2363.68V2354.66 M211.5 2362.68V2353.19 M213.5 2361.78V2358.66 M214.5 2367V2367 M216.5 2367V2367 M217.5 2367V2367 M218.5 2367V2367 M220.5 2370V2370 M222.5 2370V2370 M223.5 2370V2370 M224.5 2370V2370 M228.5 2362.06V2357.72 M229.5 2365.02V2358.52 M232.5 2361.09V2359.44 M233.5 2364.58V2359.68 M235.5 2356.1V2355.98 M237.3 2356.36V2355.91 M238.1 2363.12V2354.17 M243.1 2359.06V2352.48 M245.1 2372V2372 M246.1 2372V2372 M247.1 2372V2372 M248.1 2372V2372 M252 2326.1V2325.58 M253.5 2352.85V2352.25 M254.5 2352.11V2351.75 M256.35 2354.55V2353.36 M257.2 2381.13V2377.92 M259.2 2380.71V2374.76 M260.2 2374.28V2374.18 M262.9 2347.41V2345.95 M263.9 2345.76V2345.72 M265.5 2381.75V2374.84 M266.5 2372.77V2364.05 M269.5 2382.49V2373.35 M270.5 2384.59V2365.72 M271.5 2384.04V2380.06 M272.5 2380.03V2377.6 M273.5 2379.44V2377.1 M274.5 2377.8V2376.75 M275.5 2379.81V2377.89 M277.5 2379.31V2362.55 M282.5 2370.4V2361.66 M286.5 2368.39V2366.82 M287.5 2378.94V2366.42 M288.4 2377.95V2365.86 M290.3 2383.12V2382.68 M291.3 2383.02V2382.74 M294.9 2384.09V2351.67 M296.7 2359.97V2338.27 M297.5 2378.12V2372.38 M300.5 2368.82V2368.25 M301.5 2383.96V2373.55 M302.5 2377.3V2368.2 M303.5 2380.56V2373.19 M304.5 2379.88V2373.7 M305.5 2385.43V2377.51 M307.5 2383.81V2379.22 M309.5 2346.49V2343 M311.5 2344.86V2340.58 M312.5 2385.72V2364.64 M313.4 2359.65V2348.76 M314.3 2379.13V2373.34 M315.3 2385.36V2379.01 M316.3 2384.76V2377.03 M317.3 2382.79V2375.55 M318.3 2385.15V2375.39 M318.9 2378.89V2372.72 M322.5 2384.72V2378.36 M324.25 2379.35V2378.72 M325 2372.22V2369.05 M326 2369.06V2364.4 M327 2385.29V2368.38 M328 2386.29V2368.64 M329.75 2385.5V2367.31 M331.5 2384.77V2377.74 M332.5 2386.33V2372.9 M333.5 2377.71V2372.68 M336.2 2385.98V2366.68 M337.9 2384.78V2379.44 M340.9 2378.95V2377.56 M341.9 2380.36V2378.76 M342.9 2386.11V2383.19 M345.3 2368.11V2354.57 M347.3 2359.76V2349.95 M349.3 2359.27V2350.02 M352.5 2386.81V2378.14 M353.5 2387.09V2376.56 M354.5 2380.17V2373.28 M355.5 2379.46V2374.54 M356.5 2381.09V2376.46 M359.5 2380.22V2380.06 M360.5 2382.67V2381.12 M361.5 2387.26V2383.17 M362.5 2387.15V2380.47 M363.5 2384.38V2380.1 M366.5 2387.36V2382.07 M368.5 2387.14V2384.57 M371.5 2385.83V2382.36 M372.5 2386.2V2382.26 M373.5 2384.89V2381.77 M374.5 2386.65V2383.99 M375.35 2387.7V2382.15 M377.2 2378.22V2373.04 M378.2 2374.22V2373.08 M379.2 2383.69V2373.2 M380.1 2386.11V2373.58 M381 2348.57V2346.43 M383.9 2347.77V2347.31 M384.8 2370.72V2353.75 M385.8 2363.42V2353.5 M386.8 2368.02V2346.8 M389.8 2382.92V2345.91 M391.2 2383.08V2368.44 M392.2 2378.09V2367.84 M393.2 2372.61V2368.67 M395.2 2368.54V2367.09 M396.05 2384.99V2369.75 M396.9 2388.91V2388.8 M399.7 2389.72V2389.22 M401.5 2384.34V2383.44 M403.5 2385.33V2383.34 M406.2 2394V2394 M408.2 2394V2394 M409.2 2394V2394 M410.2 2394V2394 M412.2 2394V2394 M412.8 2394V2394 M413.4 2386.56V2384.73 M415.4 2390.5V2383.73 M419.4 2391.29V2385.9 M421.15 2391.87V2386.39 M421.9 2395.7V2395.7 M422.9 2395.7V2395.7 M424.9 2395.7V2395.7 M425.9 2395.7V2395.7 M426.9 2395.7V2395.7 M428.5 2395.7V2395.7 M429.1 2387.63V2386.69 M433.1 2389.29V2387.34 M434.1 2387.99V2385.49 M435.1 2391.85V2385.15 M436.1 2389.11V2386.33 M437.5 2396.74V2394.33 M441.2 2395.92V2394.39 M441.9 2380.99V2377.85 M443.9 2375.95V2375.85 M444.9 2392.94V2384.24 M445.9 2376.56V2376.12 M447.5 2372.33V2371.53 M448.5 2371.38V2370.09 M449.5 2370.11V2370.06 M450.5 2370.65V2370.13 M451.2 2371.78V2371.02 M451.9 2392.22V2378.5 M452.9 2391.78V2377.76 M453.9 2388.75V2376.73 M454.9 2378.17V2376.48 M455.9 2376.95V2376.38 M457.5 2388.45V2386.61 M458.5 2391.88V2385.74 M459.5 2390.31V2388.89 M460.5 2392.4V2386.65 M462.5 2395.12V2390.17 M465.35 2385.81V2385.73 M469.2 2396.14V2395.79 M470.2 2396.2V2395.88 M471.05 2395.74V2395.7 M474.9 2396.01V2392.93 M476.9 2395.71V2394.19 M477.9 2395.78V2392.27 M479.1 2398.6V2398.6 M481.1 2398.6V2398.6 M482.1 2398.6V2398.6 M483.1 2398.6V2398.6 M483.95 2398.6V2398.6 M484.8 2396.6V2394.84 M485.8 2396.64V2395.12 M486.8 2395.46V2394.82 M487.8 2395.22V2394.05 M490.8 2397.35V2396.12 M492.8 2397.3V2394.38 M493.8 2395.97V2395.07 M494.8 2398.6V2398.6 M496.8 2398.6V2398.6 M498.8 2398.6V2398.6 M499.65 2398.6V2398.6 M502.5 2398.13V2394.5 M503.5 2394.64V2392.81 M507.5 2392.4V2391.85 M508.5 2395.99V2392.32 M509.5 2391.54V2391.43 M510.5 2393.11V2391.47 M511.2 2395.06V2393.75 M511.9 2400.7V2400.7 M513.9 2400.7V2400.7 M514.9 2400.7V2400.7 M515.9 2400.7V2400.7 M518.5 2398.13V2397.14 M520.5 2399.65V2397.31 M521.5 2399.76V2398.78 M522.5 2399.98V2397.03 M525.5 2398.1V2397.31 M526.5 2397.84V2397.47 M527.5 2399.04V2397.88 M528.5 2398.71V2397.58 M529.5 2399.59V2398.21 M530.5 2398.46V2397.34 M532.5 2398.61V2397.66 M537.5 2399.22V2397.67 M538.5 2397.42V2397.14 M540.5 2399.46V2397.47 M543.5 2399.5V2398.62 M544.15 2399.87V2398" stroke="#ff8c8c" stroke-width="1.8" fill="none"/><path d="M202.5 2387.24V2362.36 M203.5 2383.12V2362.76 M204.5 2381.03V2363.38 M205.25 2387.82V2363.08 M206 2379.57V2359.56 M207 2380.42V2357.78 M208 2403.6V2358.92 M208.75 2382.57V2359.1 M209.5 2403.6V2352.98 M210.5 2380.89V2363.68 M211.5 2403.6V2362.68 M212.5 2380.1V2355.78 M213.5 2403.6V2361.78 M214.5 2403.6V2367 M215.5 2403.6V2367 M216.5 2379.01V2367 M217.5 2382.47V2367 M218.5 2379.17V2367 M219.5 2403.6V2367 M220.5 2403.6V2370 M221.5 2379V2370 M222.5 2385.73V2370 M223.5 2383.83V2370 M224.5 2387.59V2370 M225.5 2379.54V2370 M226.5 2379.9V2359.79 M227.5 2387.5V2358.34 M228.5 2379.04V2362.06 M229.5 2403.6V2365.02 M230.5 2379.75V2362.13 M231.5 2383.59V2365.85 M232.5 2387.17V2361.09 M233.5 2378.6V2364.58 M234.5 2381.62V2361.59 M235.5 2384.91V2356.1 M236.5 2387.1V2365.93 M237.3 2384.36V2356.36 M238.1 2403.6V2363.12 M239.1 2403.6V2355.88 M240.1 2403.6V2356.56 M241.1 2387.01V2362.66 M242.1 2403.6V2361.69 M243.1 2381.82V2359.06 M244.1 2387.93V2372 M245.1 2385.35V2372 M246.1 2385.5V2372 M247.1 2384.98V2372 M248.1 2378.11V2372 M249.05 2387.06V2372 M250 2403.6V2326.83 M251 2403.6V2326.48 M252 2403.6V2326.1 M252.75 2403.6V2328.24 M253.5 2403.6V2352.85 M254.5 2403.6V2352.11 M255.5 2403.6V2354.25 M256.35 2403.6V2354.55 M257.2 2403.6V2381.13 M258.2 2403.6V2381.52 M259.2 2403.6V2380.71 M260.2 2403.6V2374.28 M261.05 2403.6V2384.27 M261.9 2403.6V2345.82 M262.9 2403.6V2347.41 M263.9 2403.6V2345.76 M264.7 2403.6V2345.77 M265.5 2403.6V2381.75 M266.5 2403.6V2372.77 M267.5 2403.6V2372.05 M268.5 2403.6V2362.45 M269.5 2403.6V2382.49 M270.5 2403.6V2384.59 M271.5 2403.6V2384.04 M272.5 2403.6V2380.03 M273.5 2403.6V2379.44 M274.5 2403.6V2377.8 M275.5 2403.6V2379.81 M276.5 2403.6V2380.79 M277.5 2403.6V2379.31 M278.5 2403.6V2367.89 M279.5 2403.6V2377.34 M280.5 2403.6V2382.7 M281.5 2403.6V2367.22 M282.5 2403.6V2370.4 M283.5 2403.6V2364.61 M284.5 2403.6V2376.76 M285.5 2403.6V2381.24 M286.5 2403.6V2368.39 M287.5 2403.6V2378.94 M288.4 2403.6V2377.95 M289.3 2403.6V2382.79 M290.3 2403.6V2383.12 M291.3 2403.6V2383.02 M292.1 2403.6V2384.77 M292.9 2403.6V2356.85 M293.9 2403.6V2368.13 M294.9 2403.6V2384.09 M295.9 2403.6V2377.6 M296.7 2403.6V2359.97 M297.5 2403.6V2378.12 M298.5 2403.6V2371.89 M299.5 2403.6V2383.82 M300.5 2403.6V2368.82 M301.5 2403.6V2383.96 M302.5 2403.6V2377.3 M303.5 2403.6V2380.56 M304.5 2403.6V2379.88 M305.5 2403.6V2385.43 M306.5 2403.6V2372.88 M307.5 2403.6V2383.81 M308.5 2403.6V2381.83 M309.5 2403.6V2346.49 M310.5 2403.6V2381.96 M311.5 2403.6V2344.86 M312.5 2403.6V2385.72 M313.4 2403.6V2359.65 M314.3 2403.6V2379.13 M315.3 2403.6V2385.36 M316.3 2403.6V2384.76 M317.3 2403.6V2382.79 M318.3 2403.6V2385.15 M318.9 2403.6V2378.89 M319.5 2403.6V2382.22 M320.5 2403.6V2385.2 M321.5 2403.6V2380.2 M322.5 2403.6V2384.72 M323.5 2403.6V2385.37 M324.25 2403.6V2379.35 M325 2403.6V2372.22 M326 2403.6V2369.06 M327 2403.6V2385.29 M328 2403.6V2386.29 M329 2403.6V2366.56 M329.75 2403.6V2385.5 M330.5 2403.6V2379.14 M331.5 2403.6V2384.77 M332.5 2403.6V2386.33 M333.5 2403.6V2377.71 M334.5 2403.6V2384.64 M335.5 2403.6V2366.3 M336.2 2403.6V2385.98 M336.9 2403.6V2383.5 M337.9 2403.6V2384.78 M338.9 2403.6V2383.86 M339.9 2403.6V2386.68 M340.9 2403.6V2378.95 M341.9 2403.6V2380.36 M342.9 2403.6V2386.11 M343.9 2403.6V2378.28 M344.6 2403.6V2380.84 M345.3 2403.6V2368.11 M346.3 2403.6V2373.43 M347.3 2403.6V2359.76 M348.3 2403.6V2362.77 M349.3 2403.6V2359.27 M350.3 2403.6V2355.89 M351.3 2403.6V2361.68 M351.9 2403.6V2377.3 M352.5 2403.6V2386.81 M353.5 2403.6V2387.09 M354.5 2403.6V2380.17 M355.5 2403.6V2379.46 M356.5 2403.6V2381.09 M357.5 2403.6V2373 M358.5 2403.6V2378.88 M359.5 2403.6V2380.22 M360.5 2403.6V2382.67 M361.5 2403.6V2387.26 M362.5 2403.6V2387.15 M363.5 2403.6V2384.38 M364.5 2403.6V2384.25 M365.5 2403.6V2383.66 M366.5 2403.6V2387.36 M367.5 2403.6V2387.46 M368.5 2403.6V2387.14 M369.5 2403.6V2385.29 M370.5 2403.6V2387.52 M371.5 2403.6V2385.83 M372.5 2403.6V2386.2 M373.5 2403.6V2384.89 M374.5 2403.6V2386.65 M375.35 2403.6V2387.7 M376.2 2403.6V2384.19 M377.2 2403.6V2378.22 M378.2 2403.6V2374.22 M379.2 2403.6V2383.69 M380.1 2403.6V2386.11 M381 2403.6V2348.57 M382 2403.6V2348.85 M383 2403.6V2346.75 M383.9 2403.6V2347.77 M384.8 2403.6V2370.72 M385.8 2403.6V2363.42 M386.8 2403.6V2368.02 M387.8 2403.6V2370.64 M388.8 2403.6V2346.08 M389.8 2403.6V2382.92 M390.5 2403.6V2356.74 M391.2 2403.6V2383.08 M392.2 2403.6V2378.09 M393.2 2403.6V2372.61 M394.2 2403.6V2365.03 M395.2 2403.6V2368.54 M396.05 2403.6V2384.99 M396.9 2403.6V2388.91 M397.9 2403.6V2388.86 M398.9 2403.6V2390.25 M399.7 2403.6V2389.72 M400.5 2403.6V2390.01 M401.5 2403.6V2384.34 M402.5 2403.6V2384.76 M403.5 2403.6V2385.33 M404.5 2403.6V2390.92 M405.35 2403.6V2390.01 M406.2 2403.6V2394 M407.2 2403.6V2394 M408.2 2403.6V2394 M409.2 2403.6V2394 M410.2 2403.6V2394 M411.2 2403.6V2394 M412.2 2403.6V2394 M412.8 2403.6V2394 M413.4 2403.6V2386.56 M414.4 2403.6V2390.54 M415.4 2403.6V2390.5 M416.4 2403.6V2388.27 M417.4 2403.6V2382.98 M418.4 2403.6V2389.89 M419.4 2403.6V2391.29 M420.4 2403.6V2383.08 M421.15 2403.6V2391.87 M421.9 2403.6V2395.7 M422.9 2403.6V2395.7 M423.9 2403.6V2395.7 M424.9 2403.6V2395.7 M425.9 2403.6V2395.7 M426.9 2403.6V2395.7 M427.9 2403.6V2395.7 M428.5 2403.6V2395.7 M429.1 2403.6V2387.63 M430.1 2403.6V2388.23 M431.1 2403.6V2393.65 M432.1 2403.6V2393.44 M433.1 2403.6V2389.29 M434.1 2403.6V2387.99 M435.1 2403.6V2391.85 M436.1 2403.6V2389.11 M436.8 2403.6V2388.57 M437.5 2403.6V2396.74 M438.5 2403.6V2396 M439.5 2403.6V2396.42 M440.5 2403.6V2396.67 M441.2 2403.6V2395.92 M441.9 2403.6V2380.99 M442.9 2403.6V2393.52 M443.9 2403.6V2375.95 M444.9 2403.6V2392.94 M445.9 2403.6V2376.56 M446.7 2403.6V2394.06 M447.5 2403.6V2372.33 M448.5 2403.6V2371.38 M449.5 2403.6V2370.11 M450.5 2403.6V2370.65 M451.2 2403.6V2371.78 M451.9 2403.6V2392.22 M452.9 2403.6V2391.78 M453.9 2403.6V2388.75 M454.9 2403.6V2378.17 M455.9 2403.6V2376.95 M456.7 2403.6V2395.18 M457.5 2403.6V2388.45 M458.5 2403.6V2391.88 M459.5 2403.6V2390.31 M460.5 2403.6V2392.4 M461.5 2403.6V2389.67 M462.5 2403.6V2395.12 M463.5 2403.6V2394.47 M464.5 2403.6V2392.1 M465.35 2403.6V2385.81 M466.2 2403.6V2395.96 M467.2 2403.6V2396.03 M468.2 2403.6V2395.79 M469.2 2403.6V2396.14 M470.2 2403.6V2396.2 M471.05 2403.6V2395.74 M471.9 2403.6V2395.49 M472.9 2403.6V2395.03 M473.9 2403.6V2396.3 M474.9 2403.6V2396.01 M475.9 2403.6V2396.23 M476.9 2403.6V2395.71 M477.9 2403.6V2395.78 M478.5 2403.6V2395.56 M479.1 2403.6V2398.6 M480.1 2403.6V2398.6 M481.1 2403.6V2398.6 M482.1 2403.6V2398.6 M483.1 2403.6V2398.6 M483.95 2403.6V2398.6 M484.8 2403.6V2396.6 M485.8 2403.6V2396.64 M486.8 2403.6V2395.46 M487.8 2403.6V2395.22 M488.8 2403.6V2395.92 M489.8 2403.6V2396.74 M490.8 2403.6V2397.35 M491.8 2403.6V2395.55 M492.8 2403.6V2397.3 M493.8 2403.6V2395.97 M494.8 2403.6V2398.6 M495.8 2403.6V2398.6 M496.8 2403.6V2398.6 M497.8 2403.6V2398.6 M498.8 2403.6V2398.6 M499.65 2403.6V2398.6 M500.5 2403.6V2391.58 M501.5 2403.6V2394.5 M502.5 2403.6V2398.13 M503.5 2403.6V2394.64 M504.5 2403.6V2395.77 M505.5 2403.6V2393.14 M506.5 2403.6V2397.95 M507.5 2403.6V2392.4 M508.5 2403.6V2395.99 M509.5 2403.6V2391.54 M510.5 2403.6V2393.11 M511.2 2403.6V2395.06 M511.9 2403.6V2400.7 M512.9 2403.6V2400.7 M513.9 2403.6V2400.7 M514.9 2403.6V2400.7 M515.9 2403.6V2400.7 M516.7 2403.6V2400.7 M517.5 2403.6V2397.02 M518.5 2403.6V2398.13 M519.5 2403.6V2398.83 M520.5 2403.6V2399.65 M521.5 2403.6V2399.76 M522.5 2403.6V2399.98 M523.5 2403.6V2397.27 M524.5 2403.6V2399.49 M525.5 2403.6V2398.1 M526.5 2403.6V2397.84 M527.5 2403.6V2399.04 M528.5 2403.6V2398.71 M529.5 2403.6V2399.59 M530.5 2403.6V2398.46 M531.5 2403.6V2399.83 M532.5 2403.6V2398.61 M533.5 2403.6V2398.52 M534.5 2403.6V2398.02 M535.5 2403.6V2398.98 M536.5 2403.6V2397.7 M537.5 2403.6V2399.22 M538.5 2403.6V2397.42 M539.5 2403.6V2399.15 M540.5 2403.6V2399.46 M541.5 2403.6V2397.44 M542.5 2403.6V2398.61 M543.5 2403.6V2399.5 M544.15 2403.6V2399.87" stroke="#ff0000" stroke-width="1.6" fill="none"/>
<path d="M511 2404.6H1999.6" stroke="#ff2020" stroke-width="3.5" fill="none"/>
<path d="M544 2401.5H1999.6" stroke="#ffb8b8" stroke-width="2.8" fill="none"/>
<rect x="195.7" y="1909" width="3.2" height="461" fill="#c00000"/>
<rect x="198.9" y="1909" width="2.9" height="453" fill="#ffaaaa"/>
<rect x="193" y="2361" width="7" height="18" fill="#ff3030"/>
<rect x="195.7" y="2379" width="3.4" height="126" fill="#b8b8b8"/>
<rect x="195.7" y="1908" width="6.1" height="3" fill="#5a0a0a"/>
<path d="M410.8 2284.6L463.1 2232.9" stroke="#000" stroke-width="7.2" stroke-linecap="round" fill="none"/>
<path d="M360.7 2334.2L394.8 2268.1L426.8 2301.1Z"/>
<text transform="translate(769.95 73) scale(0.9833 1)" font-size="87">conv-MPC method</text>
<text transform="translate(106.2 121.5) scale(0.9500 1)" font-size="86.76">10</text>
<text transform="translate(149.83 303.5) scale(0.8743 1)" font-size="87.88">5</text>
<text transform="translate(145.4 484.75) scale(0.9658 1)" font-size="88.21">0</text>
<text transform="translate(112.83 669.7) scale(0.9239 1)" font-size="88.48">-5</text>
<text transform="translate(67.35 846.8) scale(1.0167 1)" font-size="85.88">-10</text>
<text transform="translate(300.28 892.9) scale(0.9723 1)" font-size="88.06">0.06</text>
<text transform="translate(640.67 898.25) scale(0.9774 1)" font-size="87.91">0.072</text>
<text transform="translate(1019.2 898.25) scale(0.9655 1)" font-size="87.91">0.08</text>
<text transform="translate(1352.85 898.65) scale(0.9500 1)" font-size="89.1">0.088</text>
<text transform="translate(1713.07 899.1) scale(0.9431 1)" font-size="90.15">0.096</text>
<text transform="translate(952.93 975.2) scale(0.9867 1)" font-size="87">Time [s]</text>
<text transform="translate(751.98 346.5) scale(1.0800 1) skewX(-6)" font-size="117.85" font-style="italic" stroke="#fff" stroke-width="2.2">i</text>
<text transform="translate(791.91 362) scale(1.0294 1)" font-size="79.17">o</text>
<text transform="translate(1103.14 612.35) scale(1.0800 1) skewX(-6)" font-size="117.38" font-style="italic" stroke="#fff" stroke-width="2.2">i</text>
<text transform="translate(1141.82 628) scale(1.0606 1)" font-size="77.5">o</text>
<text transform="translate(1151.35 576.95) scale(0.7500 1)" font-size="63.61">*</text>
<text transform="translate(419.77 1136.5) scale(1.0045 1)" font-size="103.28">S</text>
<text transform="translate(475.96 1150.95) scale(0.9679 1)" font-size="68.96">a</text>
<text transform="translate(417.77 1414.4) scale(1.0045 1)" font-size="103.28">S</text>
<text transform="translate(475 1429.4) scale(0.9375 1)" font-size="68.86">b</text>
<text transform="translate(144.2 1189.5) scale(0.7129 1)" font-size="87.88">1</text>
<text transform="translate(136.05 1327.7) scale(0.9500 1)" font-size="88.06">0</text>
<text transform="translate(144.92 1474.25) scale(0.7226 1)" font-size="88.03">1</text>
<text transform="translate(138.83 1613.65) scale(0.9579 1)" font-size="87.91">0</text>
<text transform="translate(312.84 1792.75) scale(0.9527 1)" font-size="89.1">0.06</text>
<text transform="translate(652.07 1797.75) scale(0.9774 1)" font-size="87.91">0.072</text>
<text transform="translate(1030.71 1797.75) scale(0.9649 1)" font-size="87.91">0.08</text>
<text transform="translate(1363.9 1797.75) scale(0.9665 1)" font-size="87.91">0.088</text>
<text transform="translate(1723.8 1797.75) scale(0.9653 1)" font-size="88.21">0.096</text>
<text transform="translate(953.62 1875.2) scale(0.9899 1)" font-size="87">Time [s]</text>
<text transform="translate(89.6 1512.21) rotate(-90) scale(1.0028 1)" font-size="86">Mag [V]</text>
<text transform="translate(139.62 1935) scale(0.9390 1)" font-size="89.54">4</text>
<text transform="translate(140.3 2058.9) scale(0.8757 1)" font-size="89.7">3</text>
<text transform="translate(138.91 2183.1) scale(1.0472 1)" font-size="89.85">2</text>
<text transform="translate(146.02 2304.35) scale(0.7226 1)" font-size="87.73">1</text>
<text transform="translate(141.24 2430.8) scale(0.9526 1)" font-size="88.66">0</text>
<text transform="translate(177.44 2574.95) scale(0.9868 1)" font-size="88.51">0</text>
<text transform="translate(618.49 2575.5) scale(0.9417 1)" font-size="88.18">5</text>
<text transform="translate(1049.07 2578) scale(0.9667 1)" font-size="86.18">10</text>
<text transform="translate(1501.46 2574.95) scale(0.9052 1)" font-size="88.51">15</text>
<text transform="translate(1943.98 2574.95) scale(1.0049 1)" font-size="88.51">20</text>
<text transform="translate(799.15 2652.9) scale(0.9837 1)" font-size="87">Frequency [kHz]</text>
<text transform="translate(89.8 2638.19) rotate(-90) scale(0.9963 1)" font-size="86">Mag [% of Fundamental]</text>
<text transform="translate(468.18 2216.45) scale(1.0800 1) skewX(-6)" font-size="118.62" font-style="italic" stroke="#fff" stroke-width="2.2">i</text>
<text transform="translate(507.8 2231.95) scale(1.0667 1)" font-size="78.96">o</text>
</svg></body></html>
